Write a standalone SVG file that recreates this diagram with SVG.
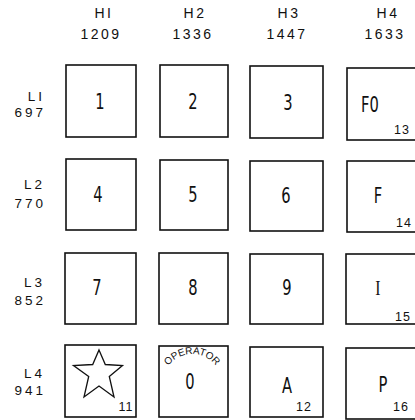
<svg xmlns="http://www.w3.org/2000/svg" width="415" height="420" viewBox="0 0 415 420">
<style>
.key{fill:#fff;stroke:#111;stroke-width:1.6}
.hd{font-family:"Liberation Sans",Arial,sans-serif;font-size:14px;letter-spacing:2.5px;fill:#111;text-anchor:middle}
.rl{font-family:"Liberation Sans",Arial,sans-serif;font-size:13.5px;letter-spacing:3px;fill:#111;text-anchor:end}
.lb{font-family:"DejaVu Sans","Liberation Sans",sans-serif;font-size:21px;fill:#111;text-anchor:middle}
.sb{font-family:"Liberation Sans",Arial,sans-serif;font-size:12.5px;letter-spacing:1px;fill:#111;text-anchor:middle}
.op{font-family:"Liberation Sans",Arial,sans-serif;font-size:10px;fill:#111}
</style>
<defs>
<path id="arc" d="M162,384 A30,30 0 0 1 222,384"/>
</defs>
<g id="headers">
<text class="hd" x="104" y="18">HI</text><text class="hd" x="101" y="39">1209</text>
<text class="hd" x="195" y="18">H2</text><text class="hd" x="193" y="39">1336</text>
<text class="hd" x="289" y="18">H3</text><text class="hd" x="287" y="39">1447</text>
<text class="hd" x="388" y="18">H4</text><text class="hd" x="385" y="39">1633</text>
</g>
<g id="rows">
<text class="rl" x="45" y="101">LI</text><text class="rl" x="46" y="117">697</text>
<text class="rl" x="45" y="189">L2</text><text class="rl" x="46" y="208">770</text>
<text class="rl" x="45" y="287">L3</text><text class="rl" x="46" y="305">852</text>
<text class="rl" x="45" y="378">L4</text><text class="rl" x="46" y="395">941</text>
</g>
<g id="k1"><rect class="key" x="66" y="65" width="70" height="72"/><text class="lb" transform="translate(100,109) scale(0.7,1)">1</text></g>
<g id="k2"><rect class="key" x="160" y="65" width="68" height="72"/><text class="lb" transform="translate(193,109) scale(0.7,1)">2</text></g>
<g id="k3"><rect class="key" x="250" y="66" width="73" height="72"/><text class="lb" transform="translate(288,110) scale(0.7,1)">3</text></g>
<g id="k13"><rect class="key" x="347" y="68" width="70" height="72"/><text class="lb" transform="translate(370,112) scale(0.7,1)">F0</text><text class="sb" x="402" y="134">13</text></g>
<g id="k4"><rect class="key" x="66" y="159" width="70" height="71"/><text class="lb" transform="translate(98,202) scale(0.7,1)">4</text></g>
<g id="k5"><rect class="key" x="160" y="160" width="68" height="70"/><text class="lb" transform="translate(193,202) scale(0.7,1)">5</text></g>
<g id="k6"><rect class="key" x="250" y="161" width="73" height="70"/><text class="lb" transform="translate(286,203) scale(0.7,1)">6</text></g>
<g id="k14"><rect class="key" x="347" y="161" width="70" height="71"/><text class="lb" transform="translate(378,203) scale(0.7,1)">F</text><text class="sb" x="404" y="227">14</text></g>
<g id="k7"><rect class="key" x="65" y="253" width="71" height="71"/><text class="lb" transform="translate(97,295) scale(0.7,1)">7</text></g>
<g id="k8"><rect class="key" x="159" y="253" width="69" height="71"/><text class="lb" transform="translate(193,295) scale(0.7,1)">8</text></g>
<g id="k9"><rect class="key" x="250" y="254" width="73" height="70"/><text class="lb" transform="translate(287,295) scale(0.7,1)">9</text></g>
<g id="k15"><rect class="key" x="346" y="254" width="71" height="70"/><text class="lb" style="font-family:'Liberation Serif',serif" transform="translate(378,295) scale(0.75,1)">I</text><text class="sb" x="403" y="321">15</text></g>
<g id="k11"><rect class="key" x="65" y="345" width="71" height="72"/>
<polygon points="99,350 105.3,364.5 122.5,365.5 109.3,376.5 114,397 99,386 84,397 88.7,376.5 73.5,365.5 92.7,364.5" fill="none" stroke="#111" stroke-width="1.3"/>
<text class="sb" x="126" y="411">11</text></g>
<g id="k0"><rect class="key" x="159" y="346" width="69" height="71"/>
<text class="op"><textPath href="#arc" startOffset="50%" text-anchor="middle">OPERATOR</textPath></text>
<text class="lb" transform="translate(190,389) scale(0.7,1)">0</text></g>
<g id="k12"><rect class="key" x="250" y="347" width="73" height="70"/><text class="lb" transform="translate(287,393) scale(0.7,1)">A</text><text class="sb" x="304" y="411">12</text></g>
<g id="k16"><rect class="key" x="346" y="348" width="71" height="71"/><text class="lb" transform="translate(383,392) scale(0.7,1)">P</text><text class="sb" x="401" y="411">16</text></g>
<g id="connectors"></g>
</svg>
